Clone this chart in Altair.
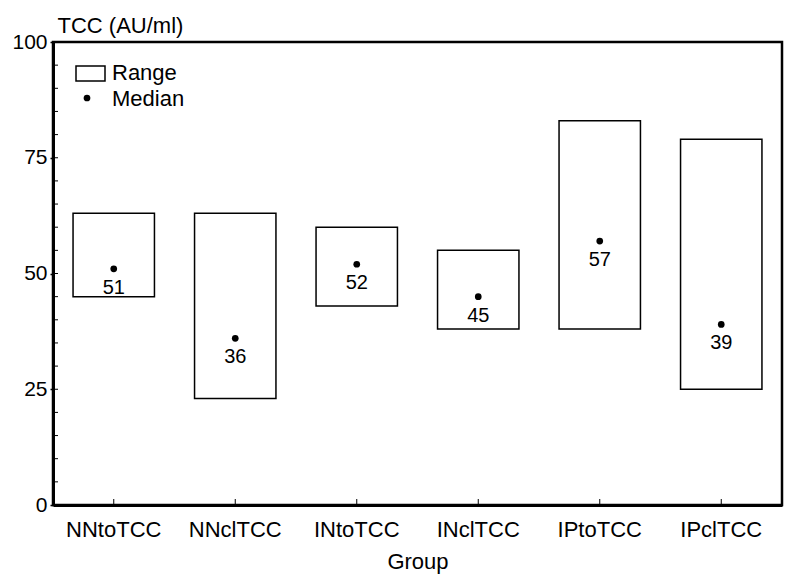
import altair as alt
import pandas as pd

groups = ["NNtoTCC", "NNclTCC", "INtoTCC", "INclTCC", "IPtoTCC", "IPclTCC"]
range_low = [45, 23, 43, 38, 38, 25]
range_high = [63, 63, 60, 55, 83, 79]
medians = [51, 36, 52, 45, 57, 39]
y_minor_ticks = list(range(5, 100, 5))
y_labels = [0, 25, 50, 75, 100]
legend_labels = ["Range", "Median"]

df = pd.DataFrame({"Group": groups, "low": range_low, "high": range_high, "median": medians})
minor_df = pd.DataFrame({"v": y_minor_ticks})
one = pd.DataFrame({"k": [0]})

W, H = 729, 463
FONT = "Liberation Sans"


def x_enc():
    return alt.X(
        "Group:N", sort=groups,
        scale=alt.Scale(domain=groups, paddingInner=0, paddingOuter=0),
        axis=alt.Axis(title="Group", labelAngle=0, ticks=False, domainWidth=3,
                      domainColor="black", labelFontSize=22, labelFont=FONT,
                      labelColor="black", labelPadding=14, titleFontSize=22,
                      titleFont=FONT, titleFontWeight="normal", titleColor="black",
                      titleY=63, titleBaseline="alphabetic"),
    )


def y_enc(field):
    return alt.Y(
        f"{field}:Q",
        scale=alt.Scale(domain=[0, 100], nice=False, zero=True),
        axis=alt.Axis(values=y_labels, title="TCC (AU/ml)", titleAngle=0,
                      titleAlign="left", titleX=4, titleY=-10,
                      titleBaseline="alphabetic", titleFontSize=22, titleFont=FONT,
                      titleFontWeight="normal", titleColor="black",
                      tickSize=3, tickColor="black", tickWidth=1.5,
                      domainWidth=3, domainColor="black", labelFontSize=21,
                      labelFont=FONT, labelColor="black", labelPadding=3, grid=False),
    )


boxes = alt.Chart(df).mark_bar(
    fill="white", stroke="black", strokeWidth=1.5,
    width=alt.RelativeBandSize(0.67)
).encode(x=x_enc(), y=y_enc("low"), y2="high:Q")

dots = alt.Chart(df).mark_circle(size=45, color="black", opacity=1).encode(
    x=x_enc(), y=y_enc("median")
)

labels = alt.Chart(df).mark_text(
    dy=19, fontSize=20, font=FONT, baseline="middle", color="black"
).encode(x=x_enc(), y=y_enc("median"), text="median:Q")

minor = alt.Chart(minor_df).mark_rule(color="black", strokeWidth=1).encode(
    y=y_enc("v"), x=alt.value(0), x2=alt.value(5)
)

xticks = alt.Chart(df).mark_rule(color="black", strokeWidth=1).encode(
    x=x_enc(), y=alt.value(H), y2=alt.value(H - 6)
)

leg_rect = alt.Chart(one).mark_rect(fill="white", stroke="black", strokeWidth=1.5).encode(
    x=alt.value(23), x2=alt.value(52), y=alt.value(24), y2=alt.value(39)
)
leg_dot = alt.Chart(one).mark_circle(size=45, color="black", opacity=1).encode(
    x=alt.value(34), y=alt.value(56)
)
leg_t1 = alt.Chart(one).mark_text(
    text=legend_labels[0], fontSize=22, font=FONT, align="left", baseline="middle", color="black"
).encode(x=alt.value(59), y=alt.value(31))
leg_t2 = alt.Chart(one).mark_text(
    text=legend_labels[1], fontSize=22, font=FONT, align="left", baseline="middle", color="black"
).encode(x=alt.value(59), y=alt.value(57))

chart = alt.layer(
    boxes, minor, xticks, dots, labels, leg_rect, leg_dot, leg_t1, leg_t2
).properties(
    width=W, height=H,
    background="white",
    autosize=alt.AutoSizeParams(type="none"),
    padding={"left": 45, "top": 34, "right": 8, "bottom": 70},
).configure_view(
    stroke="black", strokeWidth=2.5, strokeOpacity=1
)

chart.save("out.html", embed_options={"renderer": "svg", "actions": False})
